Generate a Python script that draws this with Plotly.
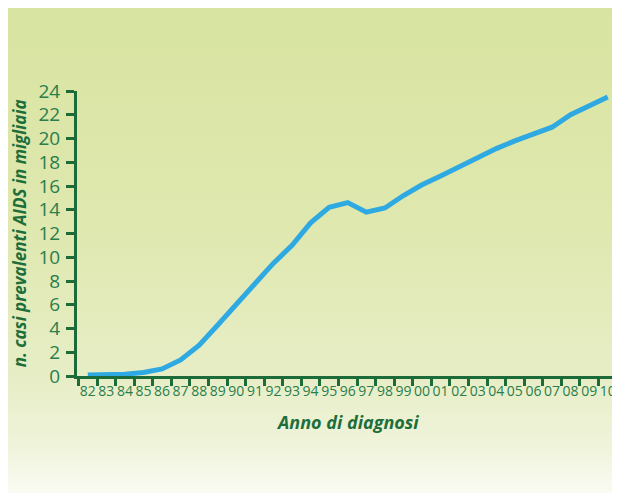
import base64
import plotly.graph_objects as go

years = list(range(1982, 2011))
year_labels = ["82", "83", "84", "85", "86", "87", "88", "89", "90", "91", "92", "93", "94", "95",
               "96", "97", "98", "99", "00", "01", "02", "03", "04", "05", "06", "07", "08", "09", "10"]
# prevalent AIDS cases, thousands
cases = [0.08, 0.1, 0.15, 0.3, 0.6, 1.35, 2.6, 4.3, 6.0, 7.8, 9.5, 11.0, 12.9, 14.2,
         14.6, 13.8, 14.15, 15.2, 16.1, 16.85, 17.6, 18.45, 19.15, 19.8, 20.35, 20.95, 22.0, 22.75, 23.5]

AXIS = "#1d6b38"
TXT = "#2a7d4c"
TITLE = "#1d6e3b"

# vertical gradient background as an svg image
svg = (
    "<svg xmlns='http://www.w3.org/2000/svg' width='612' height='485'>"
    "<defs><linearGradient id='g' x1='0' y1='0' x2='0' y2='1'>"
    "<stop offset='0' stop-color='#d8e4a1'/>"
    "<stop offset='0.45' stop-color='#dfe8af'/>"
    "<stop offset='0.77' stop-color='#e7eec7'/>"
    "<stop offset='0.91' stop-color='#f0f4dc'/>"
    "<stop offset='1' stop-color='#fafbf3'/>"
    "</linearGradient></defs>"
    "<rect width='612' height='485' fill='url(#g)'/></svg>"
)
bg_src = "data:image/svg+xml;base64," + base64.b64encode(svg.encode()).decode()

fig = go.Figure()
fig.add_trace(go.Scatter(
    x=years, y=cases, mode="lines",
    line=dict(color="#2fa9e1", width=5),
    hoverinfo="skip", showlegend=False,
))

fig.update_layout(
    width=612, height=485,
    margin=dict(l=69, r=3, t=83, b=117),
    paper_bgcolor="white",
    plot_bgcolor="rgba(0,0,0,0)",
    font=dict(family="Open Sans", color=TXT),
    images=[dict(
        source=bg_src, xref="paper", yref="paper",
        x=-0.1278, y=1.2912, sizex=1.1334, sizey=1.7018,
        xanchor="left", yanchor="top", sizing="stretch", layer="below",
    )],
    xaxis=dict(
        range=[1981.42, 2010.5],
        tickmode="array", tickvals=years, ticktext=year_labels,
        ticks="", tickfont=dict(size=14, color=TXT),
        showgrid=False, zeroline=False,
        showline=True, linecolor=AXIS, linewidth=3,
        minor=dict(tick0=1982.5, dtick=1, ticks="outside", ticklen=7,
                   tickwidth=3, tickcolor=AXIS, showgrid=False),
    ),
    yaxis=dict(
        range=[0, 24], dtick=2,
        ticks="outside", ticklen=8, tickwidth=3, tickcolor=AXIS,
        tickfont=dict(size=19, color=TXT), ticklabelstandoff=2,
        showgrid=False, zeroline=False,
        showline=True, linecolor=AXIS, linewidth=3,
    ),
    annotations=[
        dict(text="<b><i>n. casi prevalenti AIDS in migliaia</i></b>",
             xref="paper", yref="paper", x=-0.106, y=0.5,
             xanchor="center", yanchor="middle", textangle=-90,
             showarrow=False, font=dict(size=17, color=TITLE)),
        dict(text="<b><i>Anno di diagnosi</i></b>",
             xref="paper", yref="paper", x=0.5, y=-0.161,
             xanchor="center", yanchor="middle",
             showarrow=False, font=dict(size=18, color=TITLE)),
    ],
)

fig.write_html("out.html")
